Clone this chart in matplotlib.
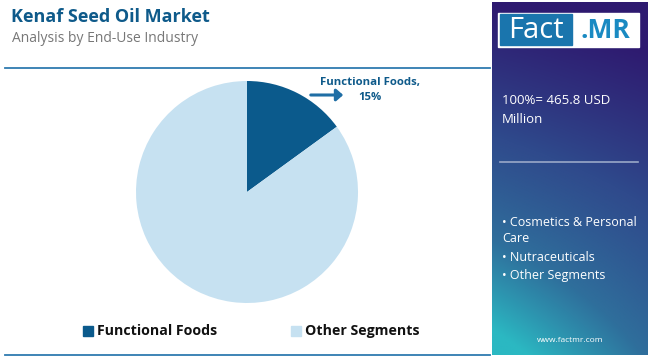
import numpy as np
import matplotlib
matplotlib.use("Agg")
import matplotlib.pyplot as plt
from matplotlib.patches import Rectangle
from matplotlib.colors import LinearSegmentedColormap

plt.rcParams['font.family'] = ['Open Sans', 'DejaVu Sans']

# data
title = "Kenaf Seed Oil Market"
subtitle = "Analysis by End-Use Industry"
labels = ["Functional Foods", "Other Segments"]
shares = [15, 85]
colors = ["#0b5a8c", "#c6e1f1"]
total_text = "100%= 465.8 USD\nMillion"
other_items = ["Cosmetics & Personal\nCare", "Nutraceuticals", "Other Segments"]

W, H = 650, 357
fig = plt.figure(figsize=(6.5, 3.57), dpi=100)
fig.patch.set_facecolor("white")

def fx(x):
    return x / W

def fy(y):
    return 1 - y / H

# header
fig.text(fx(11), fy(17), title, fontsize=13, fontweight="bold", color="#0e5a8a", va="center")
fig.text(fx(12), fy(38), subtitle, fontsize=10, color="#777777", va="center")
fig.add_artist(plt.Line2D([fx(5), fx(490)], [fy(68), fy(68)], color="#2f7bb0", lw=1.3))
fig.add_artist(plt.Line2D([fx(5), fx(490)], [fy(355), fy(355)], color="#2f7bb0", lw=1.3))

# pie
r = 111
cx, cy = 247, 192
ax = fig.add_axes([fx(cx - r), fy(cy + r), 2 * r / W, 2 * r / H])
ax.pie(shares, colors=colors, startangle=90, counterclock=False,
       wedgeprops=dict(linewidth=0))
ax.set_aspect("auto")
ax.set_xlim(-1, 1)
ax.set_ylim(-1, 1)
ax.axis("off")

fig.text(fx(370), fy(82), labels[0] + ",", fontsize=8.2, fontweight="bold",
         color="#0e5a8a", ha="center", va="center")
fig.text(fx(370), fy(97), f"{shares[0]}%", fontsize=8.2, fontweight="bold",
         color="#0e5a8a", ha="center", va="center")
fig.add_artist(matplotlib.patches.FancyArrowPatch((fx(308), fy(95)), (fx(346), fy(95)),
               transform=fig.transFigure, arrowstyle="-|>,head_length=4,head_width=3.5",
               color="#1f6ea5", lw=2.2))

# legend
lx = [83, 291]
for i in range(2):
    fig.add_artist(Rectangle((fx(lx[i]), fy(336)), 10 / W, 10 / H, color=colors[i],
                             transform=fig.transFigure))
    fig.text(fx(lx[i] + 14), fy(331), labels[i], fontsize=10.2, fontweight="bold",
             color="#111111", va="center")

# right panel with gradient
pax = fig.add_axes([fx(492), fy(355), (648 - 492) / W, (355 - 2) / H])
gx, gy = np.meshgrid(np.linspace(0, 1, 200), np.linspace(0, 1, 400))
t = np.clip(0.75 * gy + 0.35 * (1 - gx) * gy ** 2 - 0.1 * gx, 0, 1)
cmap = LinearSegmentedColormap.from_list("g", ["#2e1a70", "#2f4a8c", "#2f6f9c", "#2bb8c2"])
pax.imshow(t, cmap=cmap, aspect="auto", extent=[0, 1, 1, 0])
pax.set_xlim(0, 1)
pax.set_ylim(1, 0)
pax.axis("off")

# logo
fig.add_artist(Rectangle((fx(498), fy(47)), 141 / W, 34 / H, color="white",
                         transform=fig.transFigure))
fig.add_artist(Rectangle((fx(500), fy(45)), 72 / W, 31 / H, color="#1a75ad",
                         transform=fig.transFigure))
fig.text(fx(536), fy(30), "Fact", fontsize=21, color="white", ha="center", va="center")
fig.text(fx(605), fy(30), ".MR", fontsize=19, fontweight="bold", color="#1a8ac2",
         ha="center", va="center")

fig.text(fx(502), fy(110), total_text, fontsize=9.5, color="white", va="center",
         linespacing=1.6)
fig.add_artist(plt.Line2D([fx(500), fx(638)], [fy(162), fy(162)], color="#9aa8c8", lw=1.2))

yb = 216
for item in other_items:
    fig.text(fx(502), fy(yb), "\u2022 " + item, fontsize=9, color="white", va="top",
             linespacing=1.35)
    yb += 17.5 * (item.count("\n") + 1)

fig.text(fx(570), fy(340), "www.factmr.com", fontsize=6, color="white", ha="center", va="center")

fig.savefig("out.png", dpi=100)
